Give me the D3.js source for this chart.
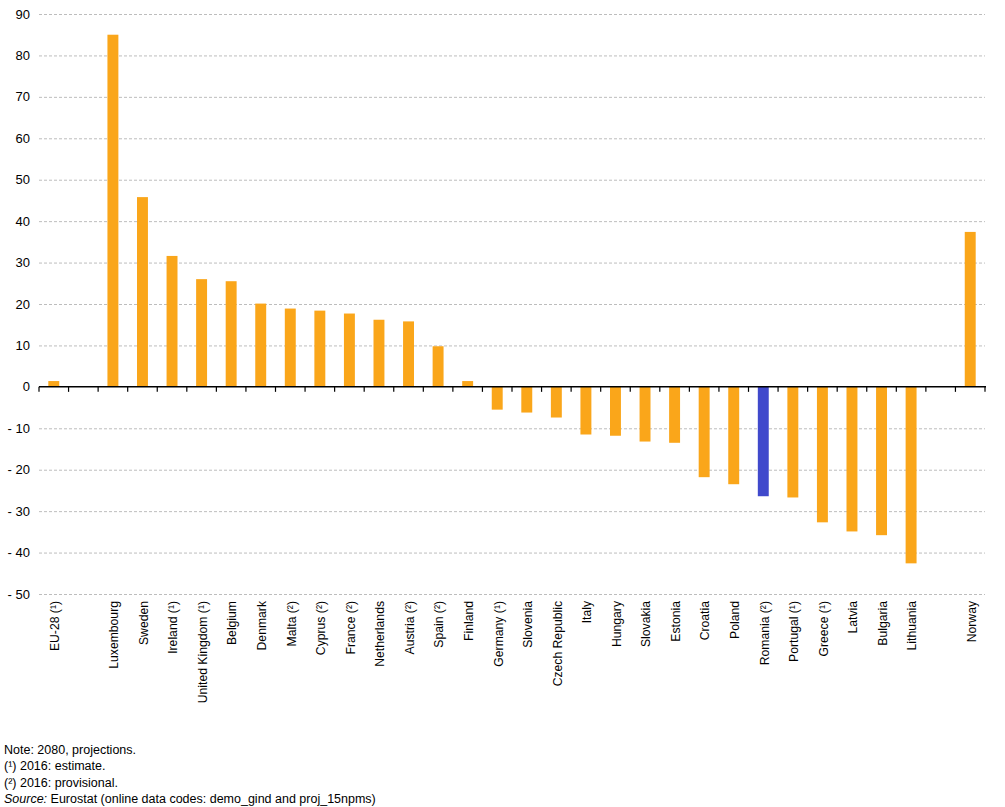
<!DOCTYPE html>
<html>
<head>
<meta charset="utf-8">
<script src="https://cdn.jsdelivr.net/npm/d3@7"></script>
<style>
  body { margin: 0; background: #fff; }
  svg text { font-family: "Liberation Sans", Arial, sans-serif; fill: #000; }
</style>
</head>
<body>
<div id="chart"></div>
<script>
// categories (null = empty slot in the axis)
const countries = [
    "EU-28 (¹)", null, "Luxembourg", "Sweden", "Ireland (¹)", "United Kingdom (¹)",
    "Belgium", "Denmark", "Malta (²)", "Cyprus (²)", "France (²)", "Netherlands",
    "Austria (²)", "Spain (²)", "Finland", "Germany (¹)", "Slovenia", "Czech Republic",
    "Italy", "Hungary", "Slovakia", "Estonia", "Croatia", "Poland", "Romania (²)",
    "Portugal (¹)", "Greece (¹)", "Latvia", "Bulgaria", "Lithuania", null, "Norway"
];
const values = [
    1.4, null, 85.0, 45.8, 31.6, 26.0,
    25.5, 20.1, 18.9, 18.4, 17.7, 16.2,
    15.8, 9.8, 1.4, -5.5, -6.2, -7.4,
    -11.5, -11.8, -13.2, -13.5, -21.8, -23.5, -26.4,
    -26.7, -32.7, -34.9, -35.8, -42.6, null, 37.4
];
const highlight = "Romania (²)";
const yTicks = [-50, -40, -30, -20, -10, 0, 10, 20, 30, 40, 50, 60, 70, 80, 90];
const notes = [
    "Note: 2080, projections.",
    "(¹) 2016: estimate.",
    "(²) 2016: provisional."
];

const width = 1005, height = 807;
const mLeft = 39, mRight = 985, mTop = 14, mBottom = 594;

const svg = d3.select("#chart").append("svg")
    .attr("width", width)
    .attr("height", height);

const slots = countries.map((c, i) => i);
const x = d3.scaleBand().domain(slots).range([mLeft, mRight]);
const y = d3.scaleLinear().domain([-50, 90]).range([mBottom, mTop]);

// gridlines
svg.append("g").selectAll("line")
    .data(yTicks.filter(d => d !== 0))
    .join("line")
    .attr("x1", mLeft).attr("x2", mRight)
    .attr("y1", d => y(d) + 0.5).attr("y2", d => y(d) + 0.5)
    .attr("stroke", "#bdbdbd")
    .attr("stroke-dasharray", "3,2");

// y labels
svg.append("g").selectAll("text")
    .data(yTicks)
    .join("text")
    .attr("x", 30)
    .attr("y", d => y(d))
    .attr("dy", "0.35em")
    .attr("text-anchor", "end")
    .style("font-size", "13px")
    .text(d => d < 0 ? "- " + Math.abs(d) : d);

// bars
const barW = x.bandwidth() * 0.37;
svg.append("g").selectAll("rect")
    .data(slots.filter(i => values[i] !== null))
    .join("rect")
    .attr("x", i => x(i) + (x.bandwidth() - barW) / 2)
    .attr("y", i => y(Math.max(0, values[i])))
    .attr("width", barW)
    .attr("height", i => Math.abs(y(values[i]) - y(0)))
    .attr("fill", i => countries[i] === highlight ? "#4049cc" : "#faa61a");

// zero axis with ticks at slot boundaries
const axis = svg.append("g");
axis.append("line")
    .attr("x1", mLeft).attr("x2", mRight + 1)
    .attr("y1", y(0)).attr("y2", y(0))
    .attr("stroke", "#000").attr("stroke-width", 1.5);
axis.selectAll("line.tick")
    .data(slots.map(i => x(i)).concat([mRight]))
    .join("line")
    .attr("class", "tick")
    .attr("x1", d => d).attr("x2", d => d)
    .attr("y1", y(0)).attr("y2", y(0) + 5)
    .attr("stroke", "#000").attr("stroke-width", 1.2);

// category labels
svg.append("g").selectAll("text")
    .data(slots.filter(i => countries[i] !== null))
    .join("text")
    .attr("transform", i => `translate(${x(i) + x.bandwidth() / 2 + 1},601) rotate(-90)`)
    .attr("dy", "0.35em")
    .attr("text-anchor", "end")
    .style("font-size", "12.2px")
    .text(i => countries[i]);

// notes
const noteG = svg.append("g").style("font-size", "12.5px");
notes.forEach((t, k) => {
    noteG.append("text").attr("x", 4).attr("y", 754 + k * 16.3).text(t);
});
const src = noteG.append("text").attr("x", 4).attr("y", 754 + 3 * 16.3);
src.append("tspan").style("font-style", "italic").text("Source:");
src.append("tspan").text(" Eurostat (online data codes: demo_gind and proj_15npms)");
</script>
</body>
</html>
